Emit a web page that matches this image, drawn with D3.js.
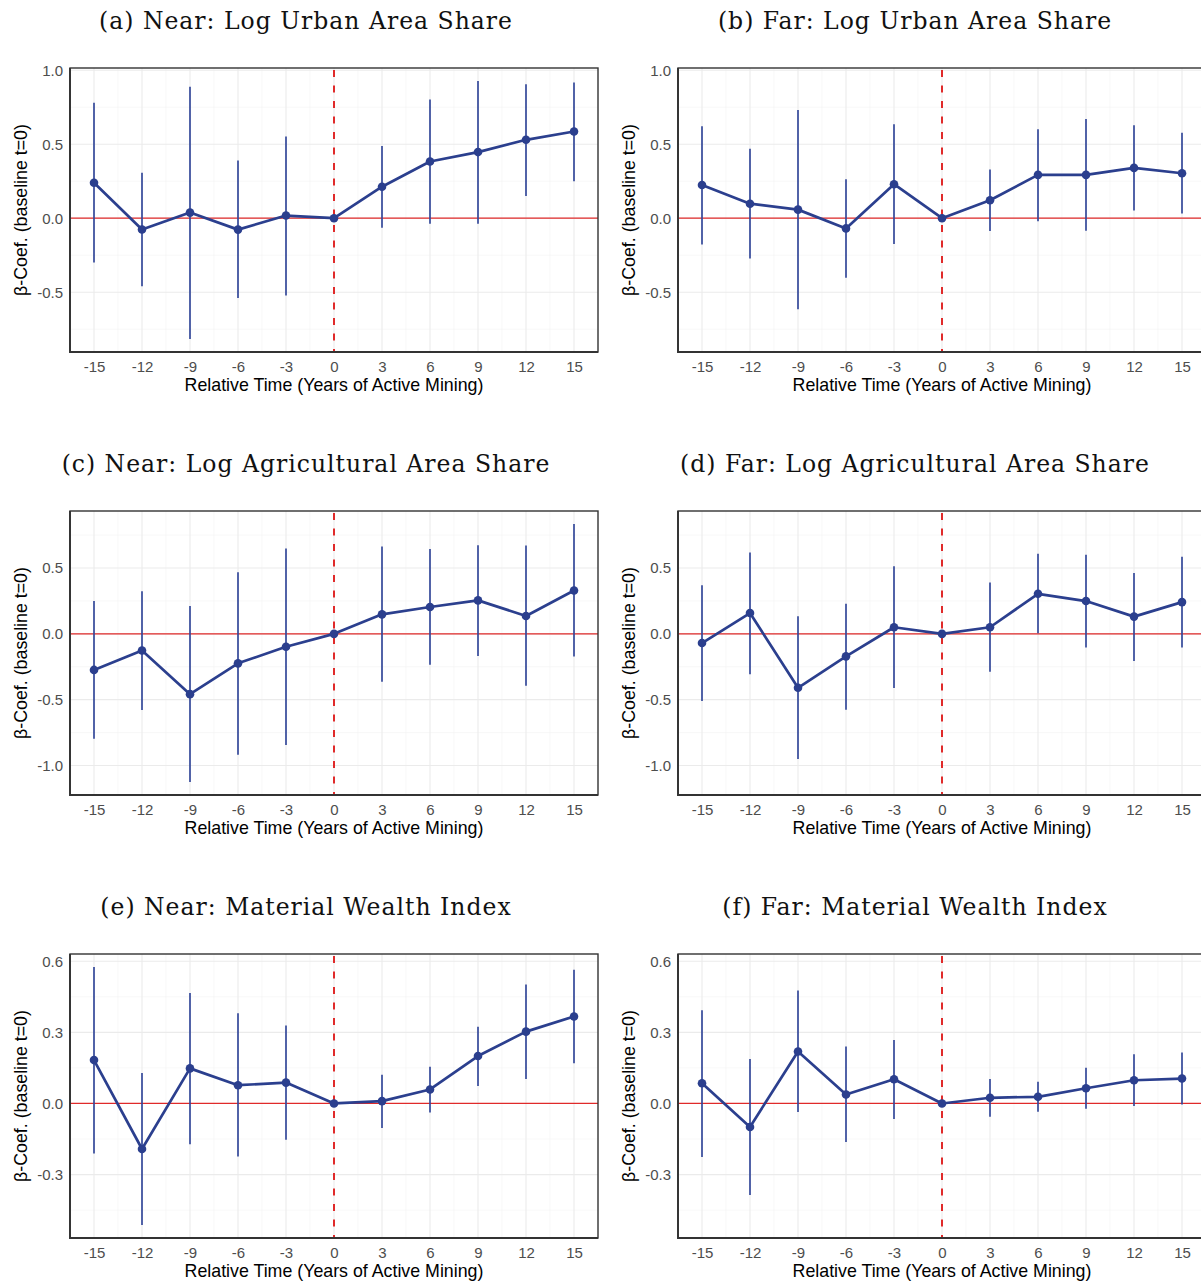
<!DOCTYPE html>
<html>
<head>
<meta charset="utf-8">
<script src="https://cdn.jsdelivr.net/npm/d3@7"></script>
<style>
  html, body { margin: 0; padding: 0; background: #fff; }
  svg { display: block; }
</style>
</head>
<body>
<svg id="chart" width="1201" height="1282"></svg>
<script>
// relative time (years of active mining)
const relTime = [-15, -12, -9, -6, -3, 0, 3, 6, 9, 12, 15];
const xTicks = relTime;

const panelTitles = [
  '(a) Near: Log Urban Area Share',
  '(b) Far: Log Urban Area Share',
  '(c) Near: Log Agricultural Area Share',
  '(d) Far: Log Agricultural Area Share',
  '(e) Near: Material Wealth Index',
  '(f) Far: Material Wealth Index'
];

// (a) near, urban
const urbanNearEst = [0.240, -0.076, 0.038, -0.077, 0.018, 0, 0.213, 0.383, 0.447, 0.530, 0.586];
const urbanNearLo  = [-0.300, -0.460, -0.817, -0.540, -0.523, 0, -0.065, -0.038, -0.038, 0.150, 0.250];
const urbanNearHi  = [0.780, 0.307, 0.888, 0.390, 0.552, 0, 0.488, 0.803, 0.928, 0.906, 0.917];

// (b) far, urban
const urbanFarEst = [0.224, 0.098, 0.058, -0.069, 0.230, 0, 0.121, 0.293, 0.293, 0.340, 0.304];
const urbanFarLo  = [-0.177, -0.273, -0.615, -0.403, -0.174, 0, -0.087, -0.020, -0.085, 0.052, 0.031];
const urbanFarHi  = [0.622, 0.470, 0.732, 0.264, 0.635, 0, 0.329, 0.602, 0.671, 0.629, 0.577];

// (c) near, agricultural
const agriNearEst = [-0.274, -0.126, -0.458, -0.224, -0.098, 0, 0.148, 0.204, 0.254, 0.136, 0.329];
const agriNearLo  = [-0.797, -0.578, -1.126, -0.918, -0.845, 0, -0.364, -0.234, -0.168, -0.395, -0.173];
const agriNearHi  = [0.249, 0.324, 0.211, 0.468, 0.649, 0, 0.664, 0.644, 0.673, 0.671, 0.835];

// (d) far, agricultural
const agriFarEst = [-0.070, 0.158, -0.410, -0.171, 0.050, 0, 0.050, 0.304, 0.249, 0.131, 0.241];
const agriFarLo  = [-0.510, -0.307, -0.950, -0.576, -0.412, 0, -0.287, 0.005, -0.103, -0.206, -0.103];
const agriFarHi  = [0.369, 0.618, 0.133, 0.228, 0.513, 0, 0.390, 0.608, 0.601, 0.462, 0.586];

// (e) near, wealth
const wealthNearEst = [0.183, -0.192, 0.148, 0.077, 0.088, 0, 0.010, 0.059, 0.200, 0.303, 0.367];
const wealthNearLo  = [-0.211, -0.513, -0.172, -0.224, -0.153, 0, -0.103, -0.038, 0.074, 0.103, 0.170];
const wealthNearHi  = [0.576, 0.128, 0.466, 0.381, 0.329, 0, 0.121, 0.155, 0.324, 0.502, 0.564];

// (f) far, wealth
const wealthFarEst = [0.085, -0.099, 0.219, 0.038, 0.102, 0, 0.024, 0.028, 0.064, 0.098, 0.105];
const wealthFarLo  = [-0.226, -0.386, -0.036, -0.163, -0.066, 0, -0.056, -0.035, -0.022, -0.011, -0.004];
const wealthFarHi  = [0.393, 0.188, 0.477, 0.240, 0.268, 0, 0.103, 0.092, 0.151, 0.208, 0.215];

// y tick values per row
const rowYTicks = [
  [-0.5, 0, 0.5, 1.0],
  [-1.0, -0.5, 0, 0.5],
  [-0.3, 0, 0.3, 0.6]
];

const xLabel = 'Relative Time (Years of Active Mining)';
const yLabel = 'β-Coef. (baseline t=0)';

// layout
const W = 528, H = 284;
const colX = [70, 678];
const rowY = [68, 511, 954];
const titleX = [306, 915];

const C = {
  point: '#2b3f8e',
  bar: '#34499a',
  red: '#e02a2a',
  grid: '#ebebeb',
  gridMinor: '#f4f4f4',
  border: '#333333',
  tick: '#4d4d4d'
};

const SANS = '"Liberation Sans", Arial, Helvetica, sans-serif';

const locale = d3.formatLocale({ decimal: '.', thousands: ',', grouping: [3], currency: ['', ''], minus: '-' });
const fmtY = locale.format('.1f');
const fmtX = locale.format('d');

function makeSeries(est, lo, hi) {
  return relTime.map((t, i) => ({ t: t, est: est[i], lo: lo[i], hi: hi[i] }));
}

const panels = [
  makeSeries(urbanNearEst, urbanNearLo, urbanNearHi),
  makeSeries(urbanFarEst, urbanFarLo, urbanFarHi),
  makeSeries(agriNearEst, agriNearLo, agriNearHi),
  makeSeries(agriFarEst, agriFarLo, agriFarHi),
  makeSeries(wealthNearEst, wealthNearLo, wealthNearHi),
  makeSeries(wealthFarEst, wealthFarLo, wealthFarHi)
];

const svg = d3.select('#chart');

function midpoints(arr) {
  const out = [];
  for (let i = 0; i < arr.length - 1; i++) out.push((arr[i] + arr[i + 1]) / 2);
  out.unshift(arr[0] - (arr[1] - arr[0]) / 2);
  out.push(arr[arr.length - 1] + (arr[1] - arr[0]) / 2);
  return out;
}

function drawPanel(idx) {
  const row = Math.floor(idx / 2), col = idx % 2;
  const data = panels[idx];

  // shared y range within a row, 5% expansion like ggplot
  const rowData = panels[row * 2].concat(panels[row * 2 + 1]);
  const yMin = d3.min(rowData, d => d.lo), yMax = d3.max(rowData, d => d.hi);
  const pad = (yMax - yMin) * 0.05;

  const x = d3.scaleLinear().domain([-16.5, 16.5]).range([0, W]);
  const y = d3.scaleLinear().domain([yMin - pad, yMax + pad]).range([H, 0]);

  const g = svg.append('g')
    .attr('transform', `translate(${colX[col]},${rowY[row]})`);

  // title
  svg.append('text')
    .attr('x', titleX[col])
    .attr('y', rowY[row] - 39)
    .attr('text-anchor', 'middle')
    .attr('font-family', '"DejaVu Serif", serif')
    .attr('font-size', 23.5)
    .attr('letter-spacing', 1)
    .attr('fill', '#111')
    .text(panelTitles[idx]);

  // grid
  const yTicks = rowYTicks[row];
  const yMinor = midpoints(yTicks).filter(v => v > y.domain()[0] && v < y.domain()[1]);
  const xMinor = midpoints(xTicks).filter(v => v > -16.5 && v < 16.5);

  const grid = g.append('g').attr('class', 'grid');
  grid.selectAll('line.ym').data(yMinor).enter().append('line')
    .attr('x1', 0).attr('x2', W)
    .attr('y1', d => y(d)).attr('y2', d => y(d))
    .attr('stroke', C.gridMinor).attr('stroke-width', 0.6);
  grid.selectAll('line.xm').data(xMinor).enter().append('line')
    .attr('y1', 0).attr('y2', H)
    .attr('x1', d => x(d)).attr('x2', d => x(d))
    .attr('stroke', C.gridMinor).attr('stroke-width', 0.6);
  grid.selectAll('line.yM').data(yTicks).enter().append('line')
    .attr('x1', 0).attr('x2', W)
    .attr('y1', d => y(d)).attr('y2', d => y(d))
    .attr('stroke', C.grid).attr('stroke-width', 1.1);
  grid.selectAll('line.xM').data(xTicks).enter().append('line')
    .attr('y1', 0).attr('y2', H)
    .attr('x1', d => x(d)).attr('x2', d => x(d))
    .attr('stroke', C.grid).attr('stroke-width', 1.1);

  // reference lines
  g.append('line')
    .attr('x1', 0).attr('x2', W)
    .attr('y1', y(0)).attr('y2', y(0))
    .attr('stroke', C.red).attr('stroke-width', 1.2);
  g.append('line')
    .attr('x1', x(0)).attr('x2', x(0))
    .attr('y1', 2).attr('y2', H)
    .attr('stroke', C.red).attr('stroke-width', 2)
    .attr('stroke-dasharray', '7,8.5');

  // error bars
  g.append('g').selectAll('line').data(data.filter(d => d.hi !== d.lo)).enter().append('line')
    .attr('x1', d => x(d.t)).attr('x2', d => x(d.t))
    .attr('y1', d => y(d.lo)).attr('y2', d => y(d.hi))
    .attr('stroke', C.bar).attr('stroke-width', 1.7);

  // estimates
  const line = d3.line().x(d => x(d.t)).y(d => y(d.est));
  g.append('path').datum(data)
    .attr('d', line)
    .attr('fill', 'none')
    .attr('stroke', C.point)
    .attr('stroke-width', 2.7)
    .attr('stroke-linejoin', 'round');
  g.append('g').selectAll('circle').data(data).enter().append('circle')
    .attr('cx', d => x(d.t)).attr('cy', d => y(d.est))
    .attr('r', 4.3)
    .attr('fill', C.point);

  // border
  g.append('rect')
    .attr('x', 0).attr('y', 0).attr('width', W).attr('height', H)
    .attr('fill', 'none').attr('stroke', C.border).attr('stroke-width', 1.4);
  g.append('path')
    .attr('d', `M0,0V${H}H${W}`)
    .attr('fill', 'none').attr('stroke', C.border).attr('stroke-width', 1.9);

  // axes
  const xAxis = g.append('g')
    .attr('transform', `translate(0,${H})`)
    .call(d3.axisBottom(x).tickValues(xTicks).tickSize(0).tickPadding(9).tickFormat(fmtX));
  const yAxis = g.append('g')
    .call(d3.axisLeft(y).tickValues(yTicks).tickSize(0).tickPadding(7).tickFormat(fmtY));
  [xAxis, yAxis].forEach(a => {
    a.select('.domain').remove();
    a.attr('font-size', null).attr('font-family', null);
    a.selectAll('text')
      .attr('font-family', SANS)
      .attr('font-size', 15)
      .attr('fill', C.tick);
  });

  // axis titles
  g.append('text')
    .attr('x', W / 2)
    .attr('y', H + 39)
    .attr('text-anchor', 'middle')
    .attr('font-family', SANS)
    .attr('font-size', 17.8)
    .attr('fill', '#000')
    .text(xLabel);
  g.append('text')
    .attr('transform', `translate(${-43},${H / 2}) rotate(-90)`)
    .attr('text-anchor', 'middle')
    .attr('font-family', SANS)
    .attr('font-size', 17.8)
    .attr('fill', '#000')
    .text(yLabel);
}

panels.forEach((p, i) => drawPanel(i));
</script>
</body>
</html>
